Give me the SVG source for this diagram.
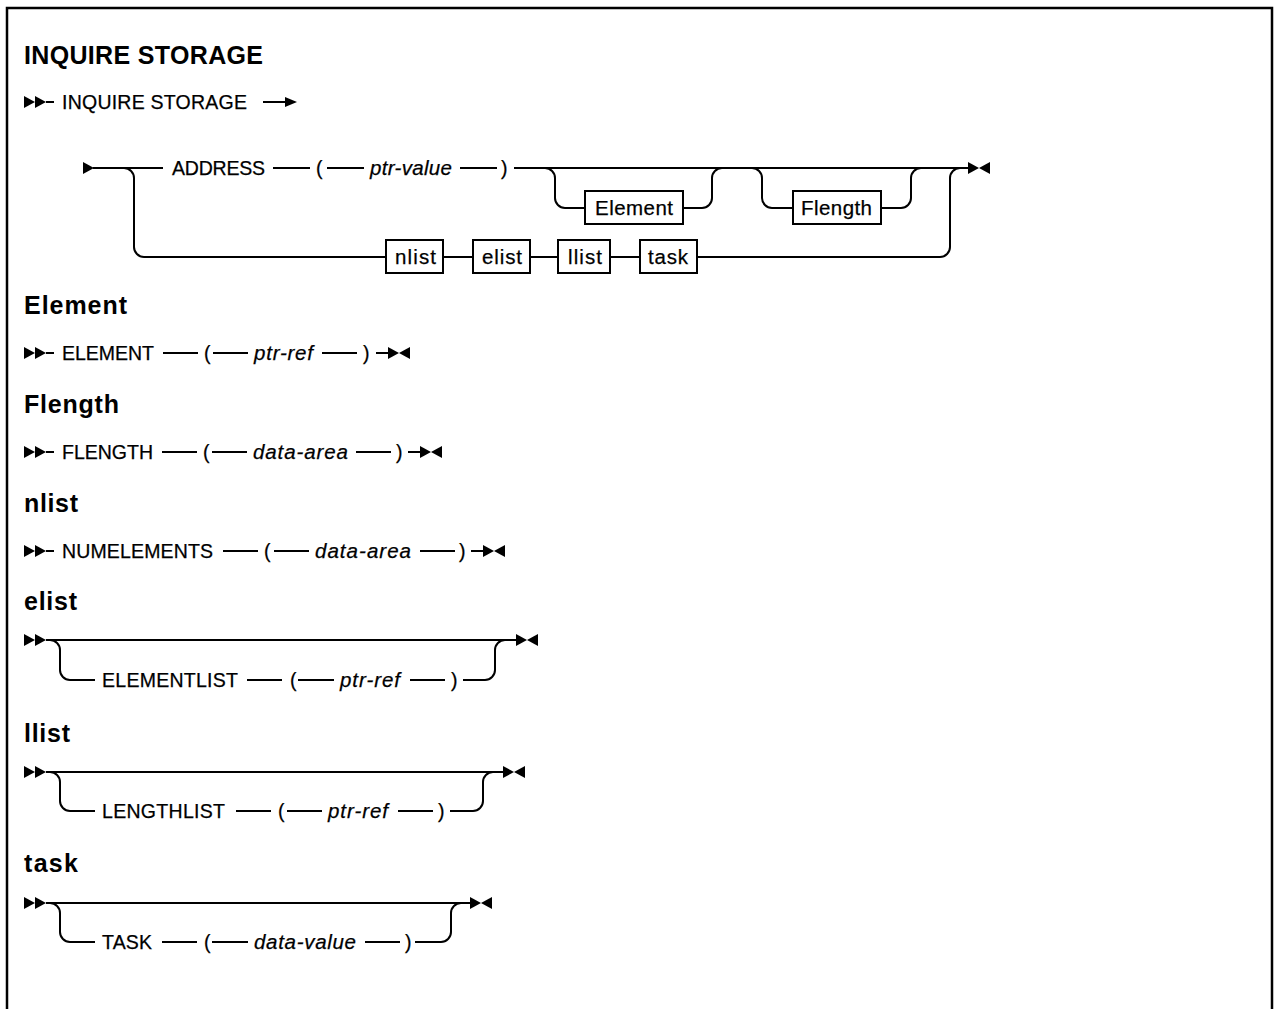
<svg xmlns="http://www.w3.org/2000/svg" xmlns:xlink="http://www.w3.org/1999/xlink" width="1274" height="1009" viewBox="0 0 1274 1009">
<style>
.t{font-family:"Liberation Sans",Arial,sans-serif;font-size:19.5px;fill:#000;stroke:#000;stroke-width:0.25}
.b{font-size:20.5px}
.i{font-style:italic;font-size:20.5px}
.h{font-family:"Liberation Sans",Arial,sans-serif;font-size:25px;font-weight:bold;fill:#000}
.ln{stroke:#000;stroke-width:2;fill:none}
.box{fill:#fff;stroke:#000;stroke-width:2}
.frame{stroke:#000;stroke-width:2.5;fill:none}
</style>
<defs>
<path id="tri" d="M0,-6 L11,0 L0,6 Z" fill="#000"/>
<path id="triL" d="M11,-6 L0,0 L11,6 Z" fill="#000"/>
<path id="arr" d="M0,-5 L12,0 L0,5 Z" fill="#000"/>
<g id="start"><use href="#tri" x="0"/><use href="#tri" x="11"/></g>
<g id="end"><use href="#tri" x="0"/><use href="#triL" x="11"/></g>
</defs>
<rect width="1274" height="1009" fill="#fff"/>
<path class="frame" d="M7,1012 V8 H1272 V1012"/>

<g id="title">
<text class="h" x="24" y="64" textLength="239">INQUIRE STORAGE</text>
</g>

<g id="row-inquire">
<use href="#start" x="24" y="102"/>
<text class="t" x="62" y="109" textLength="185">INQUIRE STORAGE</text>
</g>

<g id="row-main">
<use href="#tri" x="83" y="168"/>
<text class="t" x="172" y="175" textLength="93">ADDRESS</text>
<text class="t" x="316" y="175">(</text>
<text class="t i" x="370" y="175" textLength="82">ptr-value</text>
<text class="t" x="501" y="175">)</text>
<use href="#end" x="968" y="168"/>
</g>

<g id="box-element">
<rect class="box" x="585" y="191" width="98" height="33"/>
<text class="t b" x="595" y="215" textLength="78">Element</text>
</g>
<g id="box-flength">
<rect class="box" x="793" y="191" width="88" height="33"/>
<text class="t b" x="801" y="215" textLength="71">Flength</text>
</g>
<g id="box-nlist">
<rect class="box" x="386" y="240" width="57" height="33"/>
<text class="t b" x="395" y="264" textLength="41">nlist</text>
</g>
<g id="box-elist">
<rect class="box" x="473" y="240" width="57" height="33"/>
<text class="t b" x="482" y="264" textLength="40">elist</text>
</g>
<g id="box-llist">
<rect class="box" x="558" y="240" width="52" height="33"/>
<text class="t b" x="568" y="264" textLength="34">llist</text>
</g>
<g id="box-task">
<rect class="box" x="640" y="240" width="57" height="33"/>
<text class="t b" x="648" y="264" textLength="40">task</text>
</g>

<g id="sec-element">
<text class="h" x="24" y="314" textLength="103">Element</text>
<use href="#start" x="24" y="353"/>
<text class="t" x="62" y="360" textLength="92">ELEMENT</text>
<text class="t" x="204" y="360">(</text>
<text class="t i" x="254" y="360" textLength="59">ptr-ref</text>
<text class="t" x="363" y="360">)</text>
<use href="#end" x="388" y="353"/>
</g>

<g id="sec-flength">
<text class="h" x="24" y="413" textLength="95">Flength</text>
<use href="#start" x="24" y="452"/>
<text class="t" x="62" y="459" textLength="91">FLENGTH</text>
<text class="t" x="203" y="459">(</text>
<text class="t i" x="253" y="459" textLength="95">data-area</text>
<text class="t" x="396" y="459">)</text>
<use href="#end" x="420" y="452"/>
</g>

<g id="sec-nlist">
<text class="h" x="24" y="512" textLength="54">nlist</text>
<use href="#start" x="24" y="551"/>
<text class="t" x="62" y="558" textLength="151">NUMELEMENTS</text>
<text class="t" x="264" y="558">(</text>
<text class="t i" x="315" y="558" textLength="96">data-area</text>
<text class="t" x="459" y="558">)</text>
<use href="#end" x="483" y="551"/>
</g>

<g id="sec-elist">
<text class="h" x="24" y="610" textLength="53">elist</text>
<use href="#start" x="24" y="640"/>
<text class="t" x="102" y="687" textLength="136">ELEMENTLIST</text>
<text class="t" x="290" y="687">(</text>
<text class="t i" x="340" y="687" textLength="60">ptr-ref</text>
<text class="t" x="451" y="687">)</text>
<use href="#end" x="516" y="640"/>
</g>

<g id="sec-llist">
<text class="h" x="24" y="742" textLength="46">llist</text>
<use href="#start" x="24" y="772"/>
<text class="t" x="102" y="818" textLength="123">LENGTHLIST</text>
<text class="t" x="278" y="818">(</text>
<text class="t i" x="328" y="818" textLength="60">ptr-ref</text>
<text class="t" x="438" y="818">)</text>
<use href="#end" x="503" y="772"/>
</g>

<g id="sec-task">
<text class="h" x="24" y="872" textLength="54">task</text>
<use href="#start" x="24" y="903"/>
<text class="t" x="102" y="949" textLength="50">TASK</text>
<text class="t" x="204" y="949">(</text>
<text class="t i" x="254" y="949" textLength="102">data-value</text>
<text class="t" x="405" y="949">)</text>
<use href="#end" x="470" y="903"/>
</g>

<g id="connectors" class="ln">
<path d="M46,102 H54"/>
<path d="M263,102 H286"/>
<path d="M93,168 H163 M273,168 H310 M327,168 H364 M460,168 H497 M514,168 H968"/>
<path d="M124,168 A10,10 0 0 1 134,178 V247 A10,10 0 0 0 144,257 H386"/>
<path d="M443,257 H473 M530,257 H558 M610,257 H640"/>
<path d="M697,257 H940 A10,10 0 0 0 950,247 V178 A10,10 0 0 1 960,168"/>
<path d="M545,168 A10,10 0 0 1 555,178 V198 A10,10 0 0 0 565,208 H585"/>
<path d="M683,208 H702 A10,10 0 0 0 712,198 V178 A10,10 0 0 1 722,168"/>
<path d="M752,168 A10,10 0 0 1 762,178 V198 A10,10 0 0 0 772,208 H793"/>
<path d="M881,208 H901 A10,10 0 0 0 911,198 V178 A10,10 0 0 1 921,168"/>
<path d="M46,353 H54 M163,353 H198 M213,353 H248 M322,353 H357 M376,353 H388"/>
<path d="M46,452 H54 M162,452 H197 M212,452 H247 M356,452 H391 M408,452 H420"/>
<path d="M46,551 H54 M223,551 H258 M274,551 H309 M420,551 H455 M471,551 H483"/>
<path d="M46,640 H516"/>
<path d="M50,640 A10,10 0 0 1 60,650 V670 A10,10 0 0 0 70,680 H95 M247,680 H282 M298,680 H334 M410,680 H445 M463,680 H485 A10,10 0 0 0 495,670 V650 A10,10 0 0 1 505,640"/>
<path d="M46,772 H503"/>
<path d="M50,772 A10,10 0 0 1 60,782 V801 A10,10 0 0 0 70,811 H95 M236,811 H271 M287,811 H322 M398,811 H433 M450,811 H473 A10,10 0 0 0 483,801 V782 A10,10 0 0 1 493,772"/>
<path d="M46,903 H470"/>
<path d="M50,903 A10,10 0 0 1 60,913 V932 A10,10 0 0 0 70,942 H95 M162,942 H197 M212,942 H248 M365,942 H400 M415,942 H441 A10,10 0 0 0 451,932 V913 A10,10 0 0 1 461,903"/>
</g>
<use href="#arr" x="285" y="102"/>
</svg>
